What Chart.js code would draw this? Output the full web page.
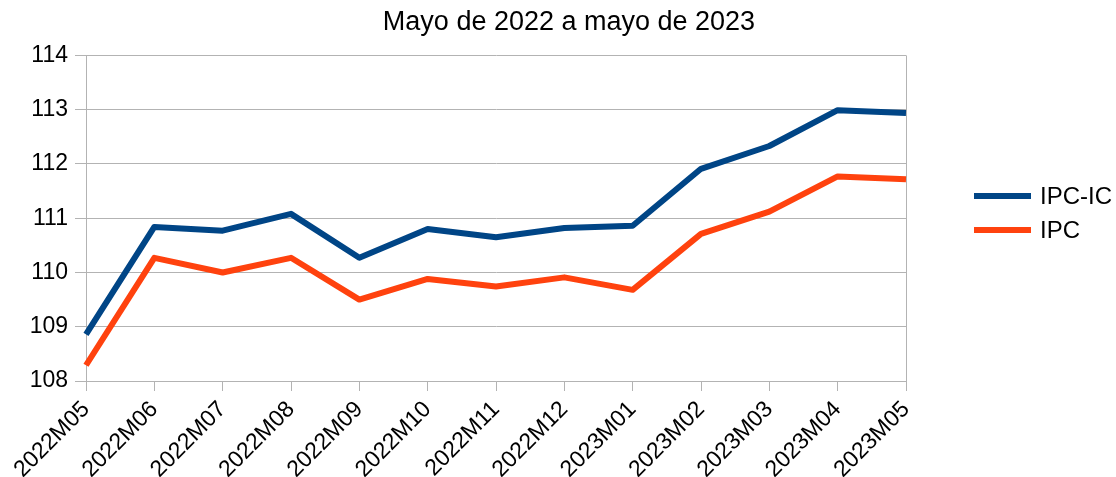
<!DOCTYPE html>
<html>
<head>
<meta charset="utf-8">
<script src="https://cdn.jsdelivr.net/npm/chart.js@4"></script>
<style>
  html, body { margin: 0; padding: 0; background: #ffffff; }
  #wrap { width: 1116px; height: 477px; position: relative; }
</style>
</head>
<body>
<div id="wrap"><canvas id="c" width="1116" height="477"></canvas></div>
<script>
const categories = ["2022M05","2022M06","2022M07","2022M08","2022M09","2022M10","2022M11","2022M12","2023M01","2023M02","2023M03","2023M04","2023M05"];
const ipcIc = [108.86, 110.84, 110.77, 111.08, 110.27, 110.80, 110.65, 110.82, 110.86, 111.91, 112.33, 112.99, 112.94];
const ipc   = [108.29, 110.27, 110.00, 110.27, 109.50, 109.88, 109.74, 109.91, 109.68, 110.71, 111.12, 111.77, 111.72];
const seriesNames = ["IPC-IC", "IPC"];
const titleText = "Mayo de 2022 a mayo de 2023";

const FONT = "'Liberation Sans', Arial, sans-serif";
const GRID = "#b3b3b3";

const legendPlugin = {
  id: 'customLegend',
  afterDraw(chart) {
    const ctx = chart.ctx;
    const ca = chart.chartArea;
    ctx.save();
    ctx.font = "24px " + FONT;
    ctx.textBaseline = "middle";
    ctx.textAlign = "left";
    chart.data.datasets.forEach((ds, i) => {
      const y = 196 + i * 34;
      const x0 = ca.right + 68;
      ctx.strokeStyle = ds.borderColor;
      ctx.lineWidth = 6;
      ctx.lineCap = "butt";
      ctx.beginPath();
      ctx.moveTo(x0, y);
      ctx.lineTo(x0 + 57, y);
      ctx.stroke();
      ctx.fillStyle = "#000000";
      ctx.fillText(ds.label, x0 + 66, y + 1);
    });
    ctx.restore();
  }
};

new Chart(document.getElementById('c'), {
  type: 'line',
  data: {
    labels: categories,
    datasets: [
      { label: seriesNames[0], data: ipcIc, borderColor: "#004586", backgroundColor: "#004586",
        borderWidth: 6, pointRadius: 0, pointHoverRadius: 0, tension: 0, borderJoinStyle: 'round', fill: false },
      { label: seriesNames[1], data: ipc, borderColor: "#ff420e", backgroundColor: "#ff420e",
        borderWidth: 6, pointRadius: 0, pointHoverRadius: 0, tension: 0, borderJoinStyle: 'round', fill: false }
    ]
  },
  options: {
    responsive: false,
    animation: false,
    events: [],
    layout: { padding: { left: 22, right: 0, top: 0, bottom: 0 } },
    plugins: {
      legend: { display: false },
      tooltip: { enabled: false },
      title: {
        display: true,
        text: titleText,
        color: "#000000",
        font: { family: FONT, size: 27, weight: 'normal' },
        padding: { top: 6, bottom: 17 }
      }
    },
    scales: {
      x: {
        offset: false,
        grid: {
          color: (c) => (c.index === 0 || c.index === categories.length - 1) ? GRID : 'rgba(0,0,0,0)',
          tickColor: GRID,
          tickLength: 10,
          lineWidth: 1
        },
        border: { color: GRID, width: 1 },
        ticks: {
          color: "#000000",
          font: { family: FONT, size: 23 },
          minRotation: 45, maxRotation: 45,
          autoSkip: false,
          padding: 5
        },
        afterFit(scale) { scale.height = 96; }
      },
      y: {
        min: 108, max: 114,
        grid: { color: GRID, tickColor: GRID, tickLength: 11, lineWidth: 1 },
        border: { color: GRID, width: 1 },
        ticks: {
          stepSize: 1,
          color: "#000000",
          font: { family: FONT, size: 23 },
          padding: 7
        },
        afterFit(scale) { scale.width = 64; }
      },
      yRightSpace: {
        position: 'right',
        display: true,
        grid: { display: false },
        border: { display: false },
        ticks: { display: false },
        afterFit(scale) { scale.width = 210; }
      }
    }
  },
  plugins: [legendPlugin]
});
</script>
</body>
</html>
